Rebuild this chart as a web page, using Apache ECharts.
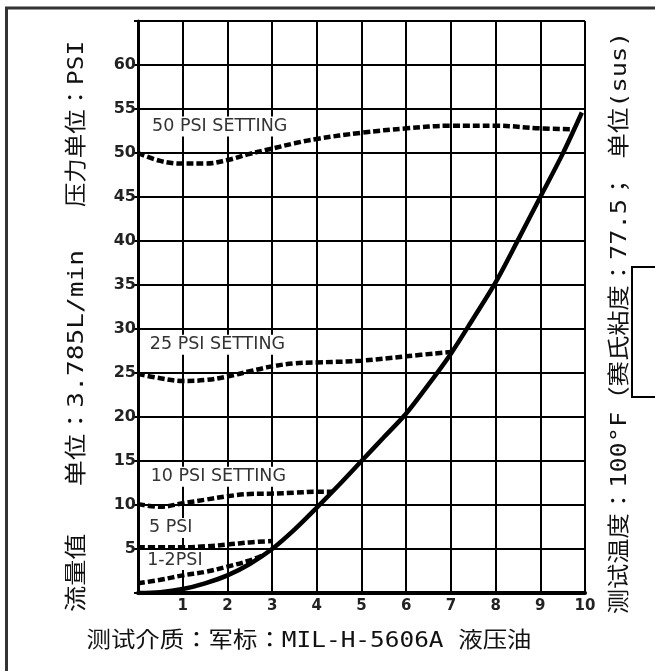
<!DOCTYPE html>
<html><head><meta charset="utf-8">
<script src="https://cdn.jsdelivr.net/npm/echarts@6/dist/echarts.min.js"></script>
<style>html,body{margin:0;padding:0;background:#fff}#c{width:655px;height:671px}</style>
</head><body><div id="c"></div>
<script>
// ---- data ----
const xTicks = [0,1,2,3,4,5,6,7,8,9,10];
const yTicks = [0,5,10,15,20,25,30,35,40,45,50,55,60,65];
const flowX = [0,0.5,1,1.5,2,2.5,3,3.5,4,4.5,5,5.5,6,6.5,7,7.5,8,8.5,9,9.5,9.93];
const flowY = [0,0.1,0.45,1.1,2.0,3.3,5.0,7.2,9.7,12.3,15,17.7,20.4,23.7,27.2,31.2,35.3,40.1,45,49.9,54.6];
const psi50X = [0,0.5,1,1.5,2,2.5,3,3.5,4,5,6,7,8,9,9.72];
const psi50Y = [50,49.1,48.8,48.8,49.2,49.9,50.5,51.1,51.6,52.3,52.8,53.1,53.1,52.8,52.7];
const psi25X = [0,0.5,1,1.5,2,2.5,3,3.5,4,5,6,7];
const psi25Y = [24.9,24.4,24.1,24.2,24.6,25.2,25.75,26.1,26.2,26.4,26.9,27.4];
const psi10X = [0,0.5,1,1.5,2,2.5,3,3.5,4,4.35];
const psi10Y = [10.1,9.8,10.2,10.6,11.0,11.25,11.3,11.4,11.5,11.5];
const psi5X = [0,0.5,1,1.5,2,2.5,3];
const psi5Y = [5.2,5.2,5.2,5.3,5.5,5.75,5.9];
const psi12X = [0,0.5,1,1.5,2,2.5,2.8];
const psi12Y = [1.1,1.5,2.0,2.4,3.0,3.7,4.3];
const curveNames = ['50 PSI SETTING','25 PSI SETTING','10 PSI SETTING','5 PSI','1-2PSI'];
const leftTitle1 = '流量值   单位：3.785L/min';
const leftTitle2 = '压力单位：PSI';
const rightTitle = '测试温度：100°F（赛氏粘度：77.5； 单位(sus)';
const bottomTitle = '测试介质：军标：MIL-H-5606A 液压油';

// ---- chart ----
const pairs = (xs, ys) => xs.map((x, i) => [x, ys[i]]);
const chart = echarts.init(document.getElementById('c'));
const dashStyle = {color:'#000', width:4.5, type:[7,3]};
const cjkFont = '"DejaVu Sans Mono", "Noto Sans CJK JP", sans-serif';
const labelAnchors = [[0.27,53.0],[0.22,28.2],[0.24,13.2],[0.2,7.4],[0.16,3.75]];

const series = [
  {name:'flow', type:'line', data:pairs(flowX, flowY), smooth:0.3, symbol:'none', lineStyle:{color:'#000', width:4.5}, z:5},
  {name:curveNames[0], type:'line', data:pairs(psi50X, psi50Y), smooth:0.4, symbol:'none', lineStyle:dashStyle},
  {name:curveNames[1], type:'line', data:pairs(psi25X, psi25Y), smooth:0.4, symbol:'none', lineStyle:dashStyle},
  {name:curveNames[2], type:'line', data:pairs(psi10X, psi10Y), smooth:0.4, symbol:'none', lineStyle:dashStyle},
  {name:curveNames[3], type:'line', data:pairs(psi5X, psi5Y), smooth:0.4, symbol:'none', lineStyle:dashStyle},
  {name:curveNames[4], type:'line', data:pairs(psi12X, psi12Y), smooth:0.4, symbol:'none', lineStyle:dashStyle}
];

chart.setOption({
  animation:false,
  backgroundColor:'#fff',
  grid:{left:138, right:70, top:21, bottom:78},
  xAxis:{type:'value', min:xTicks[0], max:xTicks[xTicks.length-1], interval:1,
    axisLine:{lineStyle:{color:'#000', width:4}},
    axisTick:{show:false},
    splitLine:{lineStyle:{color:'#000', width:2}},
    axisLabel:{formatter:v => v === 0 ? '' : String(v), color:'#222', fontFamily:'"DejaVu Sans"', fontWeight:'bold', fontSize:15, margin:6}
  },
  yAxis:{type:'value', min:yTicks[0], max:yTicks[yTicks.length-1], interval:5,
    axisLine:{lineStyle:{color:'#000', width:3}},
    axisTick:{show:true, length:4, lineStyle:{color:'#000', width:2}},
    splitLine:{lineStyle:{color:'#000', width:2}},
    axisLabel:{formatter:v => (v === 0 || v === 65) ? '' : String(v), color:'#222', fontFamily:'"DejaVu Sans"', fontWeight:'bold', fontSize:16, margin:2}
  },
  series
});

const g = [];
curveNames.forEach((n, i) => {
  const p = chart.convertToPixel({gridIndex:0}, labelAnchors[i]);
  g.push({type:'text', x:p[0], y:p[1], z:100, style:{text:n, fill:'#333', font:'17.5px "DejaVu Sans"', verticalAlign:'middle', align:'left', backgroundColor:'#fff', padding:[1,2]}});
});
g.push({type:'line', shape:{x1:6.5, y1:7, x2:6.5, y2:671}, style:{stroke:'#333', lineWidth:3}});
g.push({type:'line', shape:{x1:5, y1:8, x2:655, y2:8}, style:{stroke:'#333', lineWidth:3}});
g.push({type:'rect', shape:{x:632, y:267, width:40, height:130}, style:{stroke:'#000', fill:'none', lineWidth:2}});
const vtext = (txt, x, y, sx) => ({type:'text', x, y, rotation:Math.PI/2, scaleX:sx, style:{text:txt, fill:'#111', font:'22px ' + cjkFont, align:'center', verticalAlign:'middle'}});
g.push(vtext(leftTitle1, 77, 431, 1.19));
g.push(vtext(leftTitle2, 77, 124, 1.11));
g.push(vtext(rightTitle, 620, 323, 1.15));
g.push({type:'text', x:309, y:641, scaleX:1.11, style:{text:bottomTitle, fill:'#111', font:'22px ' + cjkFont, align:'center', verticalAlign:'middle'}});
chart.setOption({graphic:g});
</script></body></html>
